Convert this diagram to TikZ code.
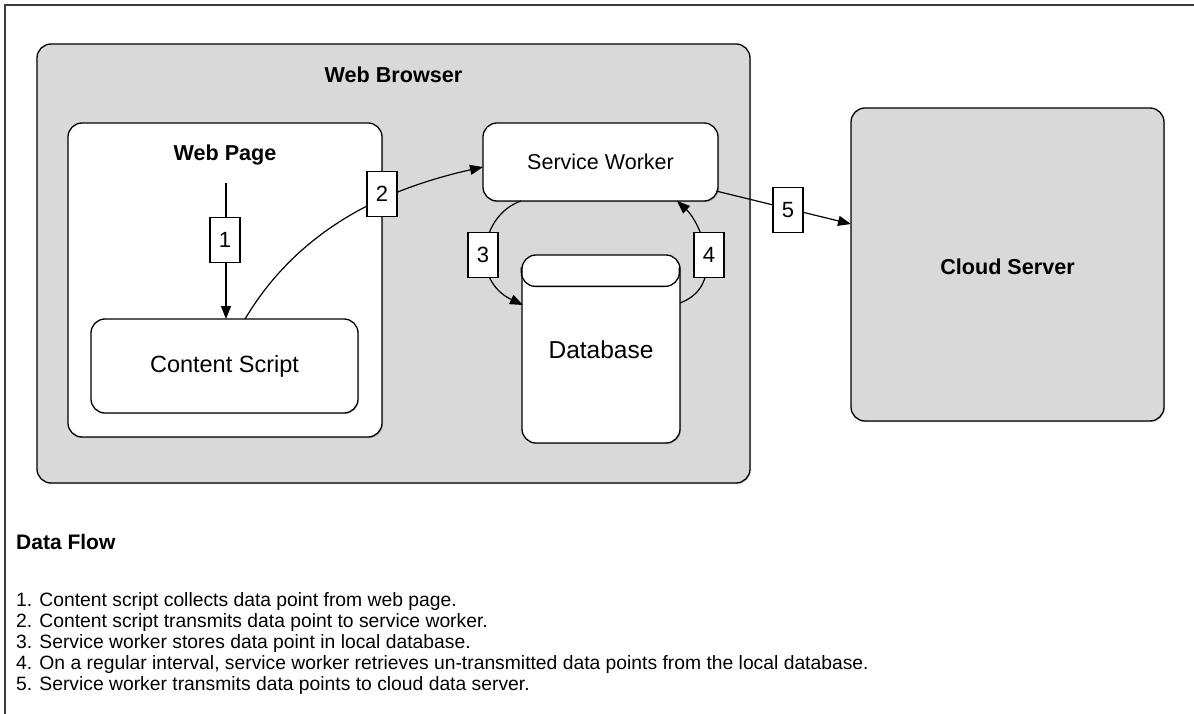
\documentclass[tikz,border=0pt]{standalone}
\usepackage{fontspec}
\setmainfont{Liberation Sans}
\usetikzlibrary{arrows.meta,calc,shadows}
\definecolor{boxgray}{RGB}{217,217,217}
\definecolor{framegray}{RGB}{60,60,60}
\tikzset{
  shad/.style={drop shadow={shadow xshift=1pt,shadow yshift=-1.2pt,fill=black,opacity=0.18}},
  rbox/.style={draw=black,line width=1.3pt,rounded corners=14pt,inner sep=0pt,shad},
  graybox/.style={rbox,fill=boxgray},
  whitebox/.style={rbox,fill=white},
  arr/.style={line width=1.2pt,-{Triangle[length=13pt,width=10pt]}},
  numbox/.style={draw=black,fill=white,line width=1.2pt,minimum width=30pt,minimum height=45pt,inner sep=0pt,font=\fontsize{22}{24}\selectfont},
  btitle/.style={font=\fontsize{21.6}{24}\selectfont\bfseries},
  listtext/.style={anchor=base west,inner sep=0pt,font=\fontsize{19.3}{21}\selectfont},
}
\begin{document}
\begin{tikzpicture}[x=1pt,y=-1pt]
\useasboundingbox (0,0) rectangle (1194,714);
\fill[white] (0,0) rectangle (1194,714);
% frame (top and left edges)
\draw[framegray,line width=1.5pt] (1194,5) -- (5,5) -- (5,714);

% Web Browser
\node[graybox,minimum width=713pt,minimum height=439pt] (wb) at (393.5,263.5) {};
\node[btitle] (wbt) at (393.5,75) {Web Browser};

% Web Page
\node[whitebox,minimum width=314pt,minimum height=314pt] (wp) at (225,280) {};
\node[btitle] (wpt) at (225,155) {Web Page};

% Content Script
\node[whitebox,minimum width=267pt,minimum height=94pt,font=\fontsize{23.5}{26}\selectfont] (cs) at (224.5,366) {Content Script};

% Service Worker
\node[whitebox,minimum width=235pt,minimum height=78pt,font=\fontsize{21.5}{24}\selectfont] (sw) at (600.5,162) {Service Worker};

% Database
\node[whitebox,minimum width=158pt,minimum height=188pt] (db) at (601,349) {};
\node[font=\fontsize{24.5}{27}\selectfont] (dbt) at (601,350) {Database};
\draw[line width=1.3pt,rounded corners=14pt] ($(db.north west)+(0,13)$) -- ++(0,19) -- ++(158,0) -- ++(0,-19);

% Cloud Server
\node[graybox,minimum width=313pt,minimum height=313pt] (cloud) at (1007.5,264.5) {};
\node[btitle] (cloudt) at (1007.5,267) {Cloud Server};

% connector end points
\coordinate (a1s) at (226,183);
\coordinate (a1e) at (226,319);
\coordinate (a2s) at (245,319);
\coordinate (a2e) at (483,167);
\coordinate (a3s) at (521,201);
\coordinate (a3e) at (523,305);
\coordinate (a4s) at (680,303);
\coordinate (a4e) at (677,201);
\coordinate (a5s) at (716,191);
\coordinate (a5e) at (851,224);

% 1
\draw[arr] (a1s) -- (a1e);
\node[numbox] (n1) at (225,240) {1};
% 2
\draw[arr] (a2s) .. controls (297,232) and (380,190) .. (a2e);
\node[numbox] (n2) at (382,194) {2};
% 3
\draw[arr] (a3s) .. controls (480,215) and (470,280) .. (a3e);
\node[numbox] (n3) at (483,255) {3};
% 4
\draw[arr] (a4s) .. controls (728,285) and (700,222) .. (a4e);
\node[numbox] (n4) at (709,255) {4};
% 5
\draw[arr] (a5s) -- (a5e);
\node[numbox] (n5) at (788,210) {5};

% Data flow text
\node[listtext,font=\fontsize{21}{24}\selectfont\bfseries] (dft) at (16,549) {Data Flow};
\node[listtext] (l1) at (16,606) {1. Content script collects data point from web page.};
\node[listtext] (l2) at (16,627) {2. Content script transmits data point to service worker.};
\node[listtext] (l3) at (16,648) {3. Service worker stores data point in local database.};
\node[listtext] (l4) at (16,669) {4. On a regular interval, service worker retrieves un-transmitted data points from the local database.};
\node[listtext] (l5) at (16,690) {5. Service worker transmits data points to cloud data server.};
\end{tikzpicture}
\end{document}
